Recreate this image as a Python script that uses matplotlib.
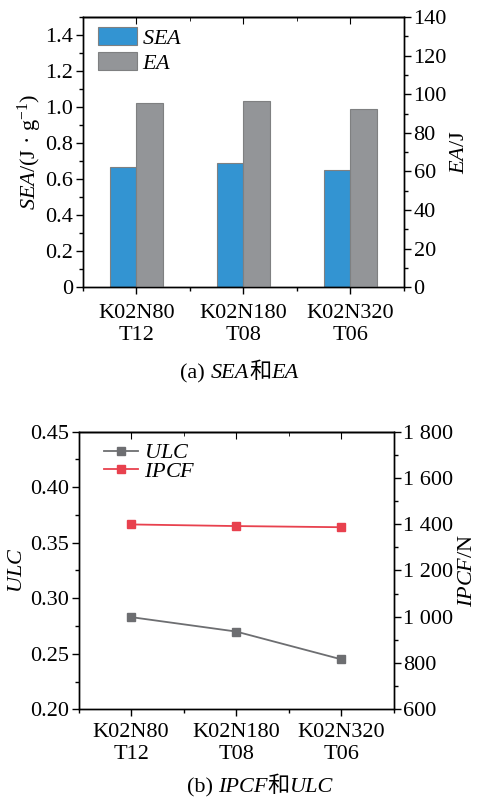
import numpy as np
import matplotlib
matplotlib.use('Agg')
import matplotlib.pyplot as plt
from matplotlib.ticker import MultipleLocator, FuncFormatter

plt.rcParams['font.family'] = ['Liberation Serif', 'Noto Sans CJK SC']
plt.rcParams['mathtext.fontset'] = 'custom'
plt.rcParams['mathtext.rm'] = 'Liberation Serif'
plt.rcParams['mathtext.it'] = 'Liberation Serif:italic'
plt.rcParams['font.size'] = 16
plt.rcParams['axes.linewidth'] = 1.0

# 数据
categories = ['K02N80\nT12', 'K02N180\nT08', 'K02N320\nT06']
sea = [0.668, 0.690, 0.653]
ea = [95.4, 96.7, 92.5]
ulc = [0.283, 0.270, 0.245]
ipcf = [1399, 1392, 1387]

c_blue = '#3394d2'
c_gray = '#939598'
c_line_gray = '#6d6e71'
c_red = '#e8414e'

fig = plt.figure(figsize=(4.79, 8), dpi=100)
x = np.arange(len(categories))
w = 0.25


def style_ticks(ax):
    ax.tick_params(which='major', direction='out', length=5, width=1, pad=2)
    ax.tick_params(which='minor', direction='out', length=3, width=1)


def top_ticks(ax):
    sec = ax.secondary_xaxis('top')
    sec.set_xticks(x)
    sec.xaxis.set_minor_locator(MultipleLocator(0.5))
    sec.tick_params(which='major', direction='in', length=5, labeltop=False)
    sec.tick_params(which='minor', direction='in', length=3)
    sec.set_xticklabels([])


def caption(pieces, xc, y):
    r = fig.canvas.get_renderer()
    objs = []
    for s, st in pieces:
        t = fig.text(0, y, s, fontstyle=st, fontsize=16, va='baseline')
        objs.append(t)
    widths = [t.get_window_extent(r).width / fig.bbox.width for t in objs]
    cur = xc - sum(widths) / 2
    for t, wd in zip(objs, widths):
        t.set_x(cur)
        cur += wd


# (a) SEA 和 EA
ax1 = fig.add_axes([0.173, 0.641, 0.670, 0.3375])
ax1.bar(x - w / 2, sea, w, color=c_blue, edgecolor='#7f8081', linewidth=0.8, label=r'$\mathit{SEA}$')
ax1.bar(np.nan, np.nan, w, color=c_gray, edgecolor='#7f8081', linewidth=0.8, label=r'$\mathit{EA}$')
ax1.set_xlim(-0.5, 2.5)
ax1.set_ylim(0, 1.5)
ax1.yaxis.set_major_locator(MultipleLocator(0.2))
ax1.yaxis.set_minor_locator(MultipleLocator(0.1))
ax1.yaxis.set_major_formatter(FuncFormatter(lambda v, p: '0' if abs(v) < 1e-9 else '%.1f' % v))
ax1.set_xticks(x)
ax1.set_xticklabels(categories, linespacing=1.25)
ax1.xaxis.set_minor_locator(MultipleLocator(0.5))
style_ticks(ax1)
ax1.tick_params(axis='x', which='major', pad=7)
ax1.set_ylabel(r'$\mathit{SEA}$/(J · g$^{-1}$)', labelpad=1)
top_ticks(ax1)

ax1r = ax1.twinx()
ax1r.bar(x + w / 2, ea, w, color=c_gray, edgecolor='#7f8081', linewidth=0.8)
ax1r.set_ylim(0, 140)
ax1r.yaxis.set_major_locator(MultipleLocator(20))
ax1r.yaxis.set_minor_locator(MultipleLocator(10))
style_ticks(ax1r)
ax1r.set_ylabel(r'$\mathit{EA}$/J', labelpad=2)

ax1.legend(loc='upper left', frameon=False, handlelength=1.76, handleheight=0.85,
           handletextpad=0.23, labelspacing=0.15, borderaxespad=0.0, borderpad=0.4,
           bbox_to_anchor=(0.02, 0.995))

# (b) IPCF 和 ULC
ax2 = fig.add_axes([0.164, 0.1134, 0.658, 0.347])
ax2.plot(x, ulc, color=c_line_gray, marker='s', markersize=6, linewidth=1.3,
         label=r'$\mathit{ULC}$')
ax2.plot(np.nan, np.nan, color=c_red, marker='s', markersize=6, linewidth=1.3,
         label=r'$\mathit{IPCF}$')
ax2.set_xlim(-0.5, 2.5)
ax2.set_ylim(0.20, 0.45)
ax2.yaxis.set_major_locator(MultipleLocator(0.05))
ax2.yaxis.set_minor_locator(MultipleLocator(0.025))
ax2.yaxis.set_major_formatter(FuncFormatter(lambda v, p: '%.2f' % v))
ax2.set_xticks(x)
ax2.set_xticklabels(categories, linespacing=1.2)
ax2.xaxis.set_minor_locator(MultipleLocator(0.5))
style_ticks(ax2)
ax2.tick_params(axis='x', which='major', pad=5)
ax2.set_ylabel(r'$\mathit{ULC}$', labelpad=2)
top_ticks(ax2)

ax2r = ax2.twinx()
ax2r.plot(x, ipcf, color=c_red, marker='s', markersize=6, linewidth=1.3)
ax2r.set_ylim(600, 1800)
ax2r.yaxis.set_major_locator(MultipleLocator(200))
ax2r.yaxis.set_minor_locator(MultipleLocator(100))
ax2r.yaxis.set_major_formatter(FuncFormatter(
    lambda v, p: ('%d %03d' % (v // 1000, v % 1000)) if v >= 1000 else '%d' % v))
style_ticks(ax2r)
ax2r.set_ylabel(r'$\mathit{IPCF}$/N', labelpad=3)

ax2.legend(loc='upper left', frameon=False, handlelength=1.55, handletextpad=0.27,
           labelspacing=-0.1, borderaxespad=0.0, borderpad=0.4,
           bbox_to_anchor=(0.052, 0.992))

caption([('(a) ', 'normal'), ('SEA', 'italic'), ('和', 'normal'), ('EA', 'italic')],
        0.50, 1 - 378 / 800)
caption([('(b) ', 'normal'), ('IPCF', 'italic'), ('和', 'normal'), ('ULC', 'italic')],
        0.543, 1 - 792 / 800)

fig.savefig('out.png', dpi=100)
